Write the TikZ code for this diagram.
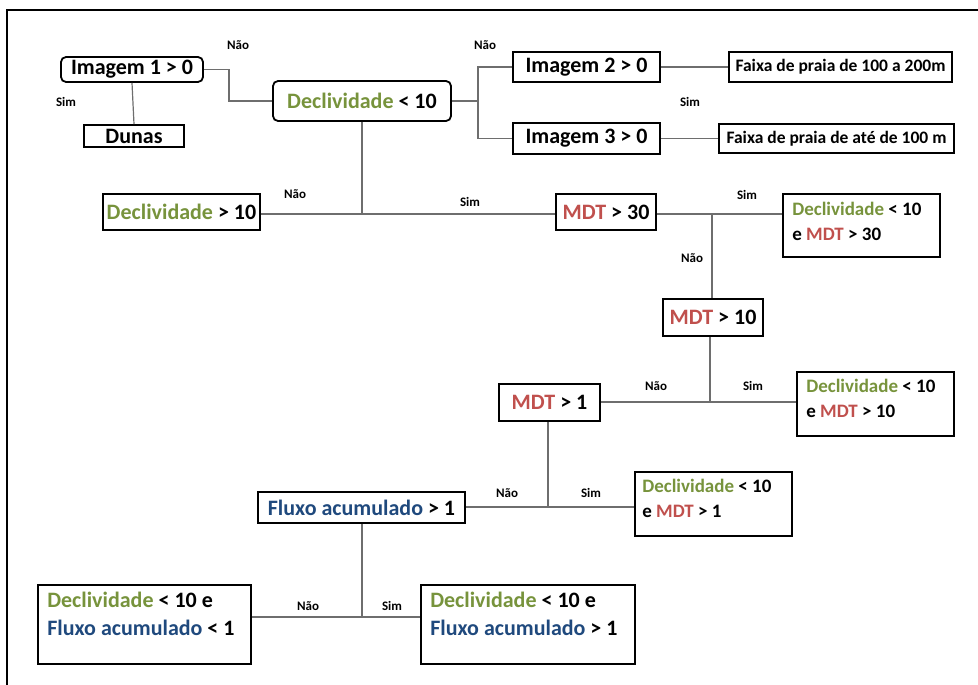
\documentclass[tikz,border=0pt]{standalone}
\usepackage{fontspec}
\setmainfont{Carlito}
\usetikzlibrary{positioning,calc}

\definecolor{declgreen}{RGB}{119,147,60}
\definecolor{mdtred}{RGB}{192,80,77}
\definecolor{fluxblue}{RGB}{31,73,125}
\definecolor{linkgray}{RGB}{110,110,110}

\newcommand{\decl}{\textcolor{declgreen}{Declividade}}
\newcommand{\mdtt}{\textcolor{mdtred}{MDT}}
\newcommand{\fluxo}{\textcolor{fluxblue}{Fluxo acumulado}}

\tikzset{
  box/.style={draw, line width=1.8pt, inner sep=0pt, font=\bfseries\fontsize{22}{26}\selectfont},
  rbox/.style={box, rounded corners=5pt},
  leaf/.style={draw, line width=1.8pt, inner sep=0pt},
  leaftext/.style={anchor=north west, inner sep=0pt, align=left, font=\bfseries\fontsize{19}{25}\selectfont},
  link/.style={draw=linkgray, line width=1.2pt},
  ans/.style={font=\bfseries\fontsize{13}{15}\selectfont, inner sep=0pt}
}

\begin{document}
\begin{tikzpicture}[x=1pt,y=-1pt]
  \useasboundingbox (0,0) rectangle (978,685);
  \draw[line width=1.5pt] (7,685) -- (7,10) -- (978,10);

  % decision nodes
  \node[rbox, minimum width=142, minimum height=25] (img1) at (132,69.5) {Imagem 1 > 0};
  \node[box, minimum width=100, minimum height=22] (dunas) at (134,136) {Dunas};
  \node[rbox, minimum width=178, minimum height=40] (decl10) at (362,101) {\decl{} < 10};
  \node[box, minimum width=147, minimum height=30] (img2) at (586.5,67) {Imagem 2 > 0};
  \node[box, minimum width=147, minimum height=31] (img3) at (586.5,138.5) {Imagem 3 > 0};
  \node[box, minimum width=223, minimum height=30, font=\bfseries\fontsize{17.5}{20}\selectfont] (faixa1) at (840.5,67) {Faixa de praia de 100 a 200m};
  \node[box, minimum width=235, minimum height=29, font=\bfseries\fontsize{17.5}{20}\selectfont] (faixa2) at (836.5,138.5) {Faixa de praia de até de 100 m};
  \node[box, minimum width=157, minimum height=36] (declgt) at (181.5,212) {\decl{} > 10};
  \node[box, minimum width=100, minimum height=36] (mdt30) at (606,212) {\mdtt{} > 30};
  \node[box, minimum width=100, minimum height=37] (mdt10) at (713,317.5) {\mdtt{} > 10};
  \node[box, minimum width=101, minimum height=37] (mdt1) at (549.5,402.5) {\mdtt{} > 1};
  \node[box, minimum width=207, minimum height=31] (fluxo) at (361.5,507.5) {\fluxo{} > 1};

  % leaves
  \node[leaf, minimum width=157, minimum height=63] (leaf30) at (861.5,225.5) {};
  \node[leaftext] (leaf30t) at ($(leaf30.north west)+(10,9)$) {\decl{} < 10\\e \mdtt{} > 30};
  \node[leaf, minimum width=157, minimum height=64] (leaf10) at (875.5,404) {};
  \node[leaftext] (leaf10t) at ($(leaf10.north west)+(10,8)$) {\decl{} < 10\\e \mdtt{} > 10};
  \node[leaf, minimum width=157, minimum height=64] (leaf1) at (713.5,504) {};
  \node[leaftext] (leaf1t) at ($(leaf1.north west)+(8,8)$) {\decl{} < 10\\e \mdtt{} > 1};
  \node[leaf, minimum width=213, minimum height=79] (leafno) at (144.5,624.5) {};
  \node[leaftext, font=\bfseries\fontsize{22}{28}\selectfont] (leafnot) at ($(leafno.north west)+(10,8)$) {\decl{} < 10 e\\\fluxo{} < 1};
  \node[leaf, minimum width=214, minimum height=79] (leafyes) at (528,624.5) {};
  \node[leaftext, font=\bfseries\fontsize{22}{28}\selectfont] (leafyest) at ($(leafyes.north west)+(10,8)$) {\decl{} < 10 e\\\fluxo{} > 1};

  % junctions
  \coordinate (j1) at (478,101);
  \coordinate (j2) at (362,214);
  \coordinate (j3) at (712,214);
  \coordinate (j4) at (710,402);
  \coordinate (j5) at (548,507);
  \coordinate (j6) at (362,617);

  % connectors
  \draw[link] (img1.south) -- (dunas.north);
  \draw[link] (img1.east) -- ++(25,0) |- (decl10.west);
  \draw[link] (decl10.east) -- (j1);
  \draw[link] (img2.west) -| (j1) |- (img3.west);
  \draw[link] (img2.east) -- (faixa1.west);
  \draw[link] (img3.east) -- (faixa2.west);
  \draw[link] (decl10.south) -- (j2);
  \draw[link] (declgt.east |- j2) -- (mdt30.west |- j2);
  \draw[link] (mdt30.east |- j3) -- (leaf30.west |- j3);
  \draw[link] (j3) -- (mdt10.north -| j3);
  \draw[link] (mdt10.south -| j4) -- (j4);
  \draw[link] (mdt1.east |- j4) -- (leaf10.west |- j4);
  \draw[link] (mdt1.south -| j5) -- (j5);
  \draw[link] (fluxo.east |- j5) -- (leaf1.west |- j5);
  \draw[link] (fluxo.south -| j6) -- (j6);
  \draw[link] (leafno.east |- j6) -- (leafyes.west |- j6);

  % answers
  \node[ans] (a1) at (238,45) {Não};
  \node[ans] (a2) at (66,102) {Sim};
  \node[ans] (a3) at (485,45) {Não};
  \node[ans] (a4) at (690,102) {Sim};
  \node[ans] (a5) at (295,194) {Não};
  \node[ans] (a6) at (470,202) {Sim};
  \node[ans] (a7) at (747,195) {Sim};
  \node[ans] (a8) at (692,258) {Não};
  \node[ans] (a9) at (656,386) {Não};
  \node[ans] (a10) at (753,386) {Sim};
  \node[ans] (a11) at (507,493) {Não};
  \node[ans] (a12) at (591,493) {Sim};
  \node[ans] (a13) at (308,606) {Não};
  \node[ans] (a14) at (392,606) {Sim};
\end{tikzpicture}
\end{document}
